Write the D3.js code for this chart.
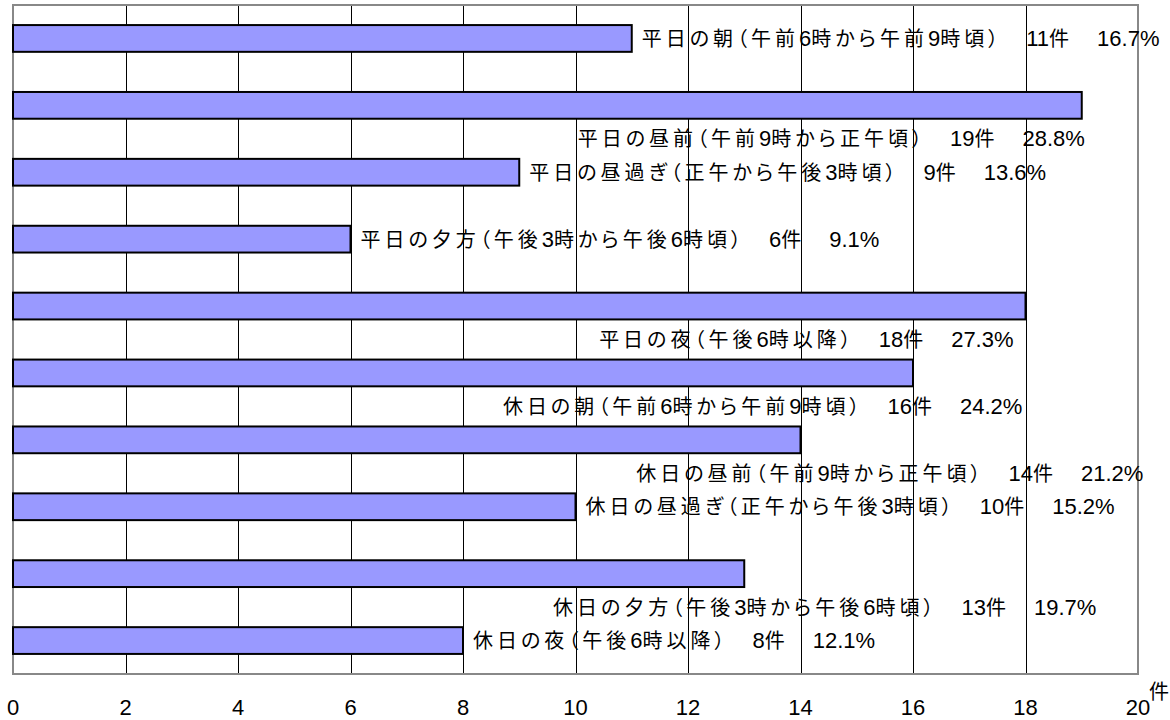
<!DOCTYPE html>
<html>
<head>
<meta charset="utf-8">
<script src="https://cdn.jsdelivr.net/npm/d3@7"></script>
<style>
  body { margin: 0; background: #fff; }
  svg { display: block; }
</style>
</head>
<body>
<div class="chart"></div>
<script>
// time-slot categories, counts and shares
var categories = [
    "平日の朝（午前6時から午前9時頃）",
    "平日の昼前（午前9時から正午頃）",
    "平日の昼過ぎ（正午から午後3時頃）",
    "平日の夕方（午後3時から午後6時頃）",
    "平日の夜（午後6時以降）",
    "休日の朝（午前6時から午前9時頃）",
    "休日の昼前（午前9時から正午頃）",
    "休日の昼過ぎ（正午から午後3時頃）",
    "休日の夕方（午後3時から午後6時頃）",
    "休日の夜（午後6時以降）"
];
var counts = [11, 19, 9, 6, 18, 16, 14, 10, 13, 8];
var shares = ["16.7%", "28.8%", "13.6%", "9.1%", "27.3%", "24.2%", "21.2%", "15.2%", "19.7%", "12.1%"];
var xTicks = [0, 2, 4, 6, 8, 10, 12, 14, 16, 18, 20];
var unitLabel = "件";

// labels moved under the bar (start given in 件 units), null = right of bar
var labelStart = [null, 10.04, null, null, 10.42, 8.71, 11.08, null, 9.6, null];

var width = 1170,
    height = 720,
    margin = { top: 5, right: 32, bottom: 46, left: 13 },
    w = width - margin.left - margin.right,
    h = height - margin.top - margin.bottom;

var cjkFont = "'Noto Sans CJK JP', sans-serif";
var numFont = "'Liberation Sans', Arial, sans-serif";

var svg = d3.select(".chart")
    .append("svg")
    .attr("width", width)
    .attr("height", height);

var g = svg.append("g")
    .attr("transform", "translate(" + margin.left + "," + margin.top + ")");

var x = d3.scaleLinear()
    .domain([0, 20])
    .range([0, w]);

var y = d3.scaleBand()
    .domain(d3.range(categories.length))
    .range([0, h])
    .paddingInner(0.6)
    .paddingOuter(0.3);

// vertical gridlines
g.append("g")
    .attr("class", "grid")
    .call(d3.axisBottom(x).tickValues(xTicks.slice(1, -1)).tickSize(h).tickFormat(""))
    .call(function(s) { s.select(".domain").remove(); })
    .selectAll("line")
    .attr("stroke", "#000")
    .attr("stroke-width", 1)
    .attr("shape-rendering", "crispEdges");

// plot border
g.append("rect")
    .attr("x", 0)
    .attr("y", 0)
    .attr("width", w)
    .attr("height", h)
    .attr("fill", "none")
    .attr("stroke", "#888")
    .attr("stroke-width", 2);

// bars
g.selectAll(".bar")
    .data(counts)
    .enter()
    .append("rect")
    .attr("class", "bar")
    .attr("x", x(0))
    .attr("y", function(d, i) { return y(i); })
    .attr("width", function(d) { return x(d) - x(0); })
    .attr("height", y.bandwidth())
    .attr("fill", "#9999ff")
    .attr("stroke", "#000")
    .attr("stroke-width", 2);

// split a label into CJK and ascii runs so each gets its own font
function addRuns(text, str) {
    var runs = str.match(/[\x00-\x7f]+|[^\x00-\x7f]+/g);
    runs.forEach(function(r) {
        var ascii = /^[\x00-\x7f]+$/.test(r);
        text.append("tspan")
            .style("font-family", ascii ? numFont : cjkFont)
            .style("font-size", ascii ? "22px" : "20px")
            .style("font-feature-settings", ascii ? "normal" : "'palt'")
            .style("letter-spacing", ascii ? "0px" : "4px")
            .text(r);
    });
}

// data labels
counts.forEach(function(d, i) {
    var below = labelStart[i] !== null;
    var lx = below ? x(labelStart[i]) : x(d) + 10;
    var ly = y(i) + y.bandwidth() / 2 + (below ? y.step() / 2 : 0);
    var t = g.append("text")
        .attr("x", lx)
        .attr("y", ly + 7.5)
        .attr("fill", "#000");
    addRuns(t, categories[i] + "　" + d + "件　" + shares[i]);
});

// x tick labels
g.append("g")
    .selectAll("text")
    .data(xTicks)
    .enter()
    .append("text")
    .attr("x", function(d) { return x(d); })
    .attr("y", h + 41)
    .attr("text-anchor", "middle")
    .style("font-family", numFont)
    .style("font-size", "22px")
    .text(function(d) { return d; });

// unit label
g.append("text")
    .attr("x", x(20) + 11)
    .attr("y", h + 25)
    .style("font-family", cjkFont)
    .style("font-size", "20px")
    .text(unitLabel);
</script>
</body>
</html>
